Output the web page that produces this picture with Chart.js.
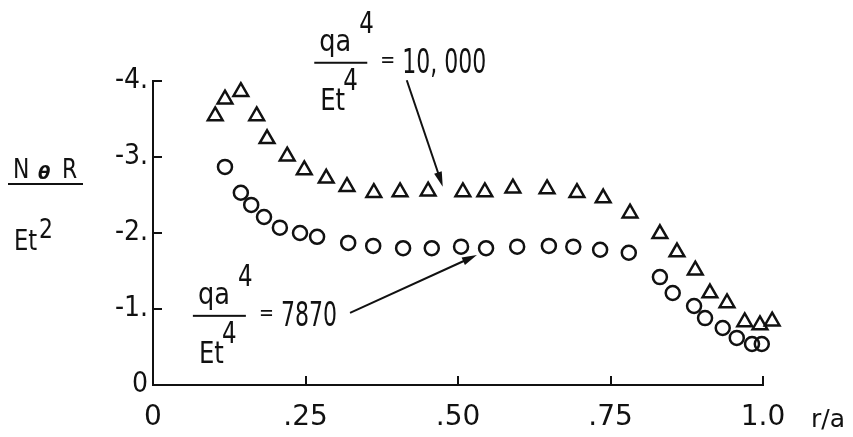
<!DOCTYPE html>
<html>
<head>
<meta charset="utf-8">
<script src="https://cdn.jsdelivr.net/npm/chart.js@4"></script>
<style>
  html, body { margin: 0; padding: 0; background: #fff; }
  #wrap { width: 853px; height: 437px; }
</style>
</head>
<body>
<div id="wrap"><canvas id="chart" width="853" height="437"></canvas></div>
<script>
// triangles: qa^4/Et^4 = 10,000
const triX = [0.102, 0.118, 0.144, 0.170, 0.187, 0.220, 0.248, 0.284, 0.318, 0.362,
              0.405, 0.451, 0.508, 0.544, 0.590, 0.646, 0.695, 0.738, 0.782, 0.831,
              0.859, 0.889, 0.913, 0.941, 0.970, 0.995, 1.015];
const triY = [-3.54, -3.76, -3.86, -3.54, -3.24, -3.01, -2.83, -2.72, -2.61, -2.53,
              -2.54, -2.55, -2.54, -2.54, -2.59, -2.58, -2.53, -2.46, -2.26, -1.99,
              -1.75, -1.51, -1.21, -1.08, -0.83, -0.79, -0.84];

// circles: qa^4/Et^4 = 7870
const circX = [0.118, 0.144, 0.161, 0.182, 0.208, 0.241, 0.269, 0.320, 0.361, 0.410,
               0.457, 0.505, 0.546, 0.597, 0.649, 0.689, 0.733, 0.780, 0.831, 0.852,
               0.887, 0.905, 0.934, 0.957, 0.982, 0.998];
const circY = [-2.87, -2.53, -2.37, -2.21, -2.07, -2.00, -1.95, -1.87, -1.83, -1.80,
               -1.80, -1.82, -1.80, -1.82, -1.83, -1.82, -1.78, -1.74, -1.42, -1.21,
               -1.04, -0.88, -0.75, -0.62, -0.54, -0.54];

const xTicks = [0, 0.25, 0.5, 0.75, 1.0];
const xTickLabels = ['0', '.25', '.50', '.75', '1.0'];
const yTicks = [-4, -3, -2, -1, 0];
const yTickLabels = ['-4.', '-3.', '-2.', '-1.', '0'];

// callouts: fraction anchor, value text, arrow tail and head (data units)
const notes = [
  { at: [0.307, -4.24], text: '10, 000', from: [0.416, -4.01], to: [0.475, -2.61] },
  { at: [0.108, -0.91], text: '7870', from: [0.323, -0.95], to: [0.531, -1.71] }
];

const ink = '#111';
const narrow = '"Liberation Sans Narrow", "DejaVu Sans Condensed", "Liberation Sans", sans-serif';
const wide = '"DejaVu Sans", sans-serif';

function toPts(xs, ys) {
  return xs.map((x, i) => ({ x: x, y: ys[i] }));
}

// squeezed text, the original lettering is very condensed
function squeeze(ctx, s, x, y, font, sx) {
  ctx.save();
  ctx.font = font;
  ctx.translate(x, y);
  ctx.scale(sx, 1);
  ctx.fillText(s, 0, 0);
  ctx.restore();
}

function arrow(ctx, x1, y1, x2, y2) {
  const a = Math.atan2(y2 - y1, x2 - x1);
  const len = 15, hw = 4;
  ctx.beginPath();
  ctx.moveTo(x1, y1);
  ctx.lineTo(x2 - Math.cos(a) * len * 0.8, y2 - Math.sin(a) * len * 0.8);
  ctx.stroke();
  ctx.beginPath();
  ctx.moveTo(x2, y2);
  ctx.lineTo(x2 - Math.cos(a) * len - Math.sin(a) * hw, y2 - Math.sin(a) * len + Math.cos(a) * hw);
  ctx.lineTo(x2 - Math.cos(a) * len + Math.sin(a) * hw, y2 - Math.sin(a) * len - Math.cos(a) * hw);
  ctx.closePath();
  ctx.fill();
}

const extras = {
  id: 'extras',
  afterDraw(chart) {
    const ctx = chart.ctx;
    const xs = chart.scales.x, ys = chart.scales.y;
    const area = chart.chartArea;
    ctx.save();
    ctx.strokeStyle = ink;
    ctx.fillStyle = ink;
    ctx.lineWidth = 2;
    ctx.textBaseline = 'alphabetic';

    // inward tick marks
    yTicks.forEach(v => {
      if (v === 0) return;
      const py = Math.round(ys.getPixelForValue(v));
      ctx.beginPath();
      ctx.moveTo(area.left, py);
      ctx.lineTo(area.left + 9, py);
      ctx.stroke();
    });
    xTicks.forEach(v => {
      if (v === 0) return;
      const px = Math.round(xs.getPixelForValue(v));
      ctx.beginPath();
      ctx.moveTo(px, area.bottom);
      ctx.lineTo(px, area.bottom - 9);
      ctx.stroke();
    });

    // x axis name
    ctx.font = '25px ' + wide;
    ctx.fillText('r/a', xs.getPixelForValue(1) + 48, 427);

    // y axis name
    squeeze(ctx, 'N', 13, 178, '27px ' + narrow, 0.9);
    ctx.font = 'italic bold 18px ' + wide;
    ctx.fillText('\u03b8', 38, 179);
    squeeze(ctx, 'R', 62, 178, '27px ' + narrow, 0.9);
    ctx.fillRect(8, 183, 75, 2);
    squeeze(ctx, 'Et', 14, 250, '28px ' + narrow, 0.9);
    squeeze(ctx, '2', 39, 238, '27px ' + narrow, 0.9);

    // callouts
    notes.forEach(n => {
      const cx = xs.getPixelForValue(n.at[0]);
      const cy = ys.getPixelForValue(n.at[1]);
      squeeze(ctx, 'qa', cx - 21, cy - 12, '30px ' + narrow, 0.95);
      squeeze(ctx, '4', cx + 19, cy - 30, '30px ' + narrow, 0.85);
      ctx.fillRect(cx - 26, cy - 1, 53, 2);
      squeeze(ctx, 'Et', cx - 20, cy + 47, '30px ' + narrow, 0.9);
      squeeze(ctx, '4', cx + 3, cy + 27, '30px ' + narrow, 0.85);
      squeeze(ctx, '=', cx + 40, cy + 4, '22px ' + narrow, 0.9);
      squeeze(ctx, n.text, cx + 62, cy + 10, '34px ' + narrow, 0.72);
      ctx.lineWidth = 2;
      arrow(ctx, xs.getPixelForValue(n.from[0]), ys.getPixelForValue(n.from[1]),
            xs.getPixelForValue(n.to[0]), ys.getPixelForValue(n.to[1]));
    });
    ctx.restore();
  }
};

new Chart(document.getElementById('chart'), {
  type: 'scatter',
  data: {
    datasets: [{
      label: '10,000',
      data: toPts(triX, triY),
      pointStyle: 'triangle',
      pointRadius: 8.5,
      borderWidth: 2.5,
      borderColor: ink,
      backgroundColor: 'rgba(0,0,0,0)',
      clip: false
    }, {
      label: '7870',
      data: toPts(circX, circY),
      pointStyle: 'circle',
      pointRadius: 7,
      borderWidth: 2.5,
      borderColor: ink,
      backgroundColor: 'rgba(0,0,0,0)',
      clip: false
    }]
  },
  options: {
    responsive: false,
    animation: false,
    layout: { padding: { left: 103, right: 90, top: 81, bottom: 0 } },
    plugins: {
      legend: { display: false },
      tooltip: { enabled: false }
    },
    scales: {
      x: {
        type: 'linear',
        min: 0,
        max: 1,
        afterBuildTicks: s => { s.ticks = xTicks.map(v => ({ value: v })); },
        afterFit: s => { s.height = 52; },
        grid: { drawOnChartArea: false, drawTicks: false },
        border: { display: true, color: ink, width: 2 },
        ticks: {
          color: ink,
          padding: 16,
          maxRotation: 0,
          font: { family: wide, size: 28 },
          callback: v => xTickLabels[xTicks.indexOf(v)]
        }
      },
      y: {
        type: 'linear',
        min: -4,
        max: 0,
        reverse: true,
        afterBuildTicks: s => { s.ticks = yTicks.map(v => ({ value: v })); },
        afterFit: s => { s.width = 50; },
        grid: { drawOnChartArea: false, drawTicks: false },
        border: { display: true, color: ink, width: 2 },
        ticks: {
          color: ink,
          padding: 5,
          font: { family: narrow, size: 28 },
          callback: v => yTickLabels[yTicks.indexOf(v)]
        }
      }
    }
  },
  plugins: [extras]
});
</script>
</body>
</html>
